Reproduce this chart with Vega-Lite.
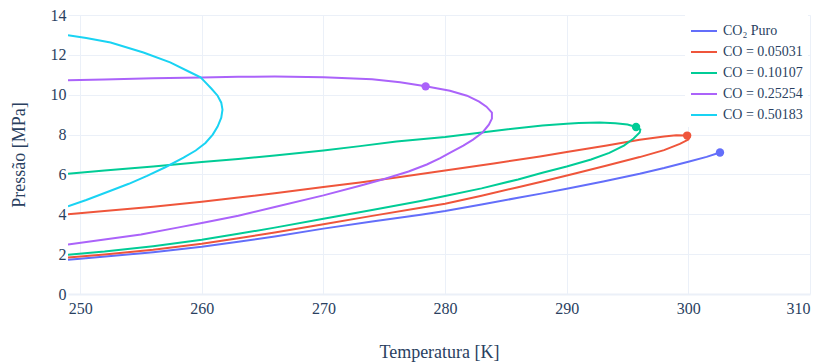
{
  "$schema": "https://vega.github.io/schema/vega-lite/v6.json",
  "width": 742,
  "height": 279,
  "autosize": {"type": "none"},
  "padding": {"left": 68, "top": 15, "right": 12, "bottom": 68},
  "background": "white",
  "config": {
    "font": "Liberation Serif",
    "view": {"stroke": null},
    "axis": {
      "domain": false,
      "ticks": false,
      "grid": true,
      "gridColor": "#ebf0f8",
      "gridWidth": 1,
      "labelOverlap": false,
      "labelFont": "Liberation Serif",
      "labelFontSize": 16,
      "labelColor": "#2a3f5f",
      "titleFont": "Liberation Serif",
      "titleFontSize": 18,
      "titleFontWeight": "normal",
      "titleColor": "#2a3f5f"
    },
    "legend": {
      "orient": "none",
      "legendX": 617,
      "legendY": -3,
      "fillColor": "white",
      "padding": 5,
      "symbolType": "stroke",
      "symbolStrokeWidth": 2,
      "symbolSize": 676,
      "labelFont": "Liberation Serif",
      "labelFontSize": 14,
      "labelColor": "#2a3f5f",
      "labelOffset": 5,
      "rowPadding": -5
    }
  },
  "datasets": {
    "lines": [
      {"s": "CO₂ Puro", "o": 1, "T": 249, "P": 1.72},
      {"s": "CO₂ Puro", "o": 2, "T": 250, "P": 1.77},
      {"s": "CO₂ Puro", "o": 3, "T": 253, "P": 1.93},
      {"s": "CO₂ Puro", "o": 4, "T": 256, "P": 2.1},
      {"s": "CO₂ Puro", "o": 5, "T": 260, "P": 2.37},
      {"s": "CO₂ Puro", "o": 6, "T": 263, "P": 2.62},
      {"s": "CO₂ Puro", "o": 7, "T": 266, "P": 2.89},
      {"s": "CO₂ Puro", "o": 8, "T": 270, "P": 3.28},
      {"s": "CO₂ Puro", "o": 9, "T": 274, "P": 3.64},
      {"s": "CO₂ Puro", "o": 10, "T": 278, "P": 3.98},
      {"s": "CO₂ Puro", "o": 11, "T": 280, "P": 4.16},
      {"s": "CO₂ Puro", "o": 12, "T": 283, "P": 4.49},
      {"s": "CO₂ Puro", "o": 13, "T": 286, "P": 4.83},
      {"s": "CO₂ Puro", "o": 14, "T": 288, "P": 5.05},
      {"s": "CO₂ Puro", "o": 15, "T": 290, "P": 5.28},
      {"s": "CO₂ Puro", "o": 16, "T": 293, "P": 5.65},
      {"s": "CO₂ Puro", "o": 17, "T": 296, "P": 6.03},
      {"s": "CO₂ Puro", "o": 18, "T": 298, "P": 6.32},
      {"s": "CO₂ Puro", "o": 19, "T": 300, "P": 6.64},
      {"s": "CO₂ Puro", "o": 20, "T": 301.5, "P": 6.88},
      {"s": "CO₂ Puro", "o": 21, "T": 302.6, "P": 7.1},

      {"s": "CO = 0.05031", "o": 1, "T": 249, "P": 1.83},
      {"s": "CO = 0.05031", "o": 2, "T": 252, "P": 1.98},
      {"s": "CO = 0.05031", "o": 3, "T": 256, "P": 2.22},
      {"s": "CO = 0.05031", "o": 4, "T": 260, "P": 2.52},
      {"s": "CO = 0.05031", "o": 5, "T": 263, "P": 2.8},
      {"s": "CO = 0.05031", "o": 6, "T": 266, "P": 3.09},
      {"s": "CO = 0.05031", "o": 7, "T": 270, "P": 3.5},
      {"s": "CO = 0.05031", "o": 8, "T": 274, "P": 3.92},
      {"s": "CO = 0.05031", "o": 9, "T": 278, "P": 4.33},
      {"s": "CO = 0.05031", "o": 10, "T": 280, "P": 4.53},
      {"s": "CO = 0.05031", "o": 11, "T": 283, "P": 4.93},
      {"s": "CO = 0.05031", "o": 12, "T": 286, "P": 5.36},
      {"s": "CO = 0.05031", "o": 13, "T": 288, "P": 5.65},
      {"s": "CO = 0.05031", "o": 14, "T": 290.6, "P": 6.03},
      {"s": "CO = 0.05031", "o": 15, "T": 293.3, "P": 6.45},
      {"s": "CO = 0.05031", "o": 16, "T": 296, "P": 6.87},
      {"s": "CO = 0.05031", "o": 17, "T": 298, "P": 7.22},
      {"s": "CO = 0.05031", "o": 18, "T": 299.3, "P": 7.53},
      {"s": "CO = 0.05031", "o": 19, "T": 300, "P": 7.75},
      {"s": "CO = 0.05031", "o": 20, "T": 300.1, "P": 7.86},
      {"s": "CO = 0.05031", "o": 21, "T": 299.9, "P": 7.95},
      {"s": "CO = 0.05031", "o": 22, "T": 299, "P": 7.97},
      {"s": "CO = 0.05031", "o": 23, "T": 298, "P": 7.9},
      {"s": "CO = 0.05031", "o": 24, "T": 296, "P": 7.74},
      {"s": "CO = 0.05031", "o": 25, "T": 293.3, "P": 7.45},
      {"s": "CO = 0.05031", "o": 26, "T": 290, "P": 7.12},
      {"s": "CO = 0.05031", "o": 27, "T": 287.8, "P": 6.9},
      {"s": "CO = 0.05031", "o": 28, "T": 284, "P": 6.55},
      {"s": "CO = 0.05031", "o": 29, "T": 280, "P": 6.2},
      {"s": "CO = 0.05031", "o": 30, "T": 276.3, "P": 5.87},
      {"s": "CO = 0.05031", "o": 31, "T": 273, "P": 5.6},
      {"s": "CO = 0.05031", "o": 32, "T": 270, "P": 5.37},
      {"s": "CO = 0.05031", "o": 33, "T": 266, "P": 5.06},
      {"s": "CO = 0.05031", "o": 34, "T": 263, "P": 4.84},
      {"s": "CO = 0.05031", "o": 35, "T": 260, "P": 4.63},
      {"s": "CO = 0.05031", "o": 36, "T": 256, "P": 4.38},
      {"s": "CO = 0.05031", "o": 37, "T": 252, "P": 4.17},
      {"s": "CO = 0.05031", "o": 38, "T": 249, "P": 4.0},

      {"s": "CO = 0.10107", "o": 1, "T": 249, "P": 1.97},
      {"s": "CO = 0.10107", "o": 2, "T": 252, "P": 2.13},
      {"s": "CO = 0.10107", "o": 3, "T": 256, "P": 2.4},
      {"s": "CO = 0.10107", "o": 4, "T": 260, "P": 2.72},
      {"s": "CO = 0.10107", "o": 5, "T": 263, "P": 3.02},
      {"s": "CO = 0.10107", "o": 6, "T": 266, "P": 3.33},
      {"s": "CO = 0.10107", "o": 7, "T": 270, "P": 3.78},
      {"s": "CO = 0.10107", "o": 8, "T": 274, "P": 4.22},
      {"s": "CO = 0.10107", "o": 9, "T": 278, "P": 4.67},
      {"s": "CO = 0.10107", "o": 10, "T": 280, "P": 4.92},
      {"s": "CO = 0.10107", "o": 11, "T": 283, "P": 5.3},
      {"s": "CO = 0.10107", "o": 12, "T": 286, "P": 5.75},
      {"s": "CO = 0.10107", "o": 13, "T": 288, "P": 6.08},
      {"s": "CO = 0.10107", "o": 14, "T": 290, "P": 6.4},
      {"s": "CO = 0.10107", "o": 15, "T": 292, "P": 6.75},
      {"s": "CO = 0.10107", "o": 16, "T": 293.5, "P": 7.08},
      {"s": "CO = 0.10107", "o": 17, "T": 294.7, "P": 7.45},
      {"s": "CO = 0.10107", "o": 18, "T": 295.5, "P": 7.8},
      {"s": "CO = 0.10107", "o": 19, "T": 296, "P": 8.1},
      {"s": "CO = 0.10107", "o": 20, "T": 296.05, "P": 8.25},
      {"s": "CO = 0.10107", "o": 21, "T": 295.7, "P": 8.38},
      {"s": "CO = 0.10107", "o": 22, "T": 295, "P": 8.5},
      {"s": "CO = 0.10107", "o": 23, "T": 294, "P": 8.57},
      {"s": "CO = 0.10107", "o": 24, "T": 292.7, "P": 8.6},
      {"s": "CO = 0.10107", "o": 25, "T": 291, "P": 8.58},
      {"s": "CO = 0.10107", "o": 26, "T": 290, "P": 8.54},
      {"s": "CO = 0.10107", "o": 27, "T": 288, "P": 8.46},
      {"s": "CO = 0.10107", "o": 28, "T": 285, "P": 8.26},
      {"s": "CO = 0.10107", "o": 29, "T": 282, "P": 8.03},
      {"s": "CO = 0.10107", "o": 30, "T": 280, "P": 7.88},
      {"s": "CO = 0.10107", "o": 31, "T": 276, "P": 7.65},
      {"s": "CO = 0.10107", "o": 32, "T": 273, "P": 7.42},
      {"s": "CO = 0.10107", "o": 33, "T": 270, "P": 7.2},
      {"s": "CO = 0.10107", "o": 34, "T": 266, "P": 6.95},
      {"s": "CO = 0.10107", "o": 35, "T": 263, "P": 6.78},
      {"s": "CO = 0.10107", "o": 36, "T": 260, "P": 6.62},
      {"s": "CO = 0.10107", "o": 37, "T": 256, "P": 6.4},
      {"s": "CO = 0.10107", "o": 38, "T": 252, "P": 6.2},
      {"s": "CO = 0.10107", "o": 39, "T": 249, "P": 6.04},

      {"s": "CO = 0.25254", "o": 1, "T": 249, "P": 2.48},
      {"s": "CO = 0.25254", "o": 2, "T": 252, "P": 2.73},
      {"s": "CO = 0.25254", "o": 3, "T": 255, "P": 2.99},
      {"s": "CO = 0.25254", "o": 4, "T": 258, "P": 3.33},
      {"s": "CO = 0.25254", "o": 5, "T": 260, "P": 3.56},
      {"s": "CO = 0.25254", "o": 6, "T": 263, "P": 3.93},
      {"s": "CO = 0.25254", "o": 7, "T": 266, "P": 4.37},
      {"s": "CO = 0.25254", "o": 8, "T": 270, "P": 4.95},
      {"s": "CO = 0.25254", "o": 9, "T": 273, "P": 5.43},
      {"s": "CO = 0.25254", "o": 10, "T": 275, "P": 5.77},
      {"s": "CO = 0.25254", "o": 11, "T": 277, "P": 6.15},
      {"s": "CO = 0.25254", "o": 12, "T": 278.5, "P": 6.5},
      {"s": "CO = 0.25254", "o": 13, "T": 279.6, "P": 6.82},
      {"s": "CO = 0.25254", "o": 14, "T": 280.5, "P": 7.12},
      {"s": "CO = 0.25254", "o": 15, "T": 281.5, "P": 7.45},
      {"s": "CO = 0.25254", "o": 16, "T": 282.3, "P": 7.75},
      {"s": "CO = 0.25254", "o": 17, "T": 283.1, "P": 8.12},
      {"s": "CO = 0.25254", "o": 18, "T": 283.6, "P": 8.5},
      {"s": "CO = 0.25254", "o": 19, "T": 283.85, "P": 8.8},
      {"s": "CO = 0.25254", "o": 20, "T": 283.85, "P": 9.1},
      {"s": "CO = 0.25254", "o": 21, "T": 283.4, "P": 9.4},
      {"s": "CO = 0.25254", "o": 22, "T": 282.8, "P": 9.65},
      {"s": "CO = 0.25254", "o": 23, "T": 281.8, "P": 9.95},
      {"s": "CO = 0.25254", "o": 24, "T": 280.4, "P": 10.2},
      {"s": "CO = 0.25254", "o": 25, "T": 278.4, "P": 10.42},
      {"s": "CO = 0.25254", "o": 26, "T": 276.3, "P": 10.62},
      {"s": "CO = 0.25254", "o": 27, "T": 274, "P": 10.78},
      {"s": "CO = 0.25254", "o": 28, "T": 270, "P": 10.88},
      {"s": "CO = 0.25254", "o": 29, "T": 266, "P": 10.91},
      {"s": "CO = 0.25254", "o": 30, "T": 263, "P": 10.9},
      {"s": "CO = 0.25254", "o": 31, "T": 260, "P": 10.87},
      {"s": "CO = 0.25254", "o": 32, "T": 256, "P": 10.82},
      {"s": "CO = 0.25254", "o": 33, "T": 252, "P": 10.76},
      {"s": "CO = 0.25254", "o": 34, "T": 249, "P": 10.72},

      {"s": "CO = 0.50183", "o": 1, "T": 249, "P": 4.4},
      {"s": "CO = 0.50183", "o": 2, "T": 250.5, "P": 4.72},
      {"s": "CO = 0.50183", "o": 3, "T": 252.5, "P": 5.18},
      {"s": "CO = 0.50183", "o": 4, "T": 254, "P": 5.53},
      {"s": "CO = 0.50183", "o": 5, "T": 255.5, "P": 5.93},
      {"s": "CO = 0.50183", "o": 6, "T": 257, "P": 6.36},
      {"s": "CO = 0.50183", "o": 7, "T": 258.5, "P": 6.84},
      {"s": "CO = 0.50183", "o": 8, "T": 259.5, "P": 7.2},
      {"s": "CO = 0.50183", "o": 9, "T": 260.3, "P": 7.58},
      {"s": "CO = 0.50183", "o": 10, "T": 260.9, "P": 8.0},
      {"s": "CO = 0.50183", "o": 11, "T": 261.3, "P": 8.4},
      {"s": "CO = 0.50183", "o": 12, "T": 261.6, "P": 8.85},
      {"s": "CO = 0.50183", "o": 13, "T": 261.7, "P": 9.25},
      {"s": "CO = 0.50183", "o": 14, "T": 261.6, "P": 9.6},
      {"s": "CO = 0.50183", "o": 15, "T": 261.3, "P": 9.95},
      {"s": "CO = 0.50183", "o": 16, "T": 260.8, "P": 10.3},
      {"s": "CO = 0.50183", "o": 17, "T": 260.3, "P": 10.62},
      {"s": "CO = 0.50183", "o": 18, "T": 259.9, "P": 10.87},
      {"s": "CO = 0.50183", "o": 19, "T": 259, "P": 11.14},
      {"s": "CO = 0.50183", "o": 20, "T": 257.4, "P": 11.62},
      {"s": "CO = 0.50183", "o": 21, "T": 255.2, "P": 12.12},
      {"s": "CO = 0.50183", "o": 22, "T": 252.5, "P": 12.62},
      {"s": "CO = 0.50183", "o": 23, "T": 250.5, "P": 12.85},
      {"s": "CO = 0.50183", "o": 24, "T": 249, "P": 12.98}
    ],
    "crit": [
      {"s": "CO₂ Puro", "T": 302.6, "P": 7.1},
      {"s": "CO = 0.05031", "T": 299.9, "P": 7.95},
      {"s": "CO = 0.10107", "T": 295.7, "P": 8.38},
      {"s": "CO = 0.25254", "T": 278.4, "P": 10.42}
    ]
  },
  "encoding": {
    "x": {
      "field": "T", "type": "quantitative",
      "scale": {"domain": [249, 310], "nice": false, "zero": false},
      "axis": {"values": [250, 260, 270, 280, 290, 300, 310], "labelPadding": 6, "title": "Temperatura [K]", "titleY": 63, "titleBaseline": "alphabetic"}
    },
    "y": {
      "field": "P", "type": "quantitative",
      "scale": {"domain": [0, 14], "nice": false, "zero": false},
      "axis": {
        "values": [0, 2, 4, 6, 8, 10, 12, 14], "tickCount": 8, "labelOverlap": false, "labelPadding": 2,
        "gridWidth": {"condition": {"test": "datum.value === 0", "value": 2}, "value": 1},
        "title": "Pressão [MPa]", "titleX": -44, "titleY": 139.5, "titleBaseline": "alphabetic"
      }
    },
    "color": {
      "field": "s", "type": "nominal",
      "scale": {
        "domain": ["CO₂ Puro", "CO = 0.05031", "CO = 0.10107", "CO = 0.25254", "CO = 0.50183"],
        "range": ["#636efa", "#EF553B", "#00cc96", "#ab63fa", "#19d3f3"]
      },
      "legend": {"title": null}
    }
  },
  "layer": [
    {
      "data": {"name": "lines"},
      "mark": {"type": "line", "strokeWidth": 2, "clip": true},
      "encoding": {
        "order": {"field": "o", "type": "quantitative"}
      }
    },
    {
      "data": {"name": "crit"},
      "mark": {"type": "point", "filled": true, "size": 70, "opacity": 1}
    }
  ]
}
